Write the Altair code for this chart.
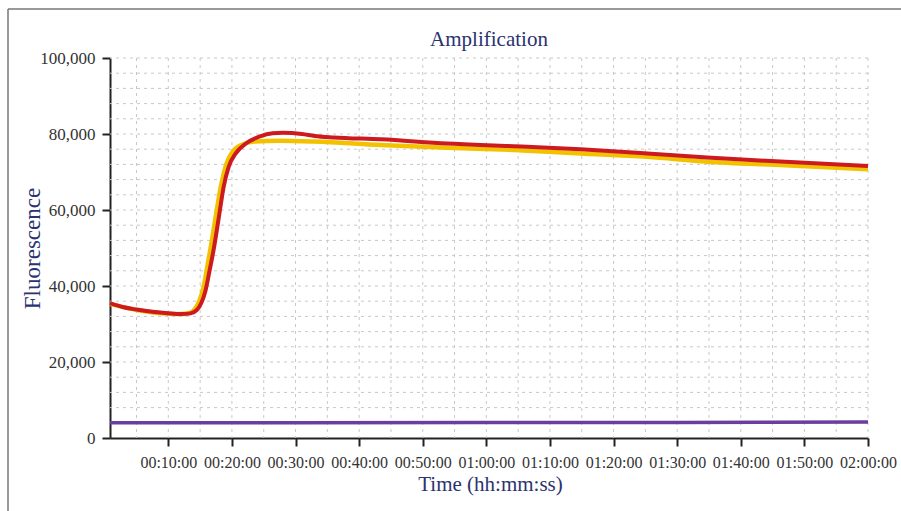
import altair as alt
import pandas as pd

# ---- data (time in minutes, fluorescence units) ----
red_t = [0.83, 3, 5, 7.5, 10, 12, 13.5, 14.5, 15.2, 15.8, 16.4, 17.2, 17.95, 18.7,
         19.5, 20.6, 22.2, 24.3, 26.4, 28.0, 31, 33, 36, 43.4, 53.8, 64.3, 74.8,
         85.3, 94.7, 107, 120]
red_v = [35500, 34400, 33800, 33200, 32800, 32600, 32800, 33700, 35600, 38500,
         43300, 50300, 58200, 66100, 71400, 74900, 77500, 79300, 80200, 80300,
         80000, 79500, 79100, 78600, 77500, 76800, 76000, 74900, 73800, 72700, 71600]

yellow_t = [0.83, 5, 10, 12, 13.3, 14.2, 14.9, 15.5, 16.1, 16.8, 17.5, 18.3, 19.1,
            20.1, 21.6, 23.5, 27.6, 32.9, 43.4, 53.8, 64.3, 74.8, 85.3, 94.7, 107, 120]
yellow_v = [35300, 33700, 32700, 32600, 32900, 34000, 36200, 39500, 44800, 51500,
            58800, 66500, 72000, 75300, 77200, 78000, 78200, 78000, 77100, 76400,
            75800, 74900, 74000, 72700, 71800, 70700]

purple_t = [0.83, 30, 60, 90, 120]
purple_v = [4000, 4000, 4050, 4100, 4200]

grid_x = list(range(5, 125, 5))
grid_y = list(range(4000, 100001, 4000))
x_ticks = list(range(10, 121, 10))
y_ticks = [0, 20000, 40000, 60000, 80000, 100000]

W, H = 758, 380
NAVY = "#2b3270"
SERIF = "Liberation Serif"

red_df = pd.DataFrame({"t": red_t, "v": red_v})
yellow_df = pd.DataFrame({"t": yellow_t, "v": yellow_v})
purple_df = pd.DataFrame({"t": purple_t, "v": purple_v})
gx_df = pd.DataFrame({"t": grid_x})
gy_df = pd.DataFrame({"v": grid_y})

xscale = alt.Scale(domain=[0.83, 120], nice=False, zero=False)
yscale = alt.Scale(domain=[0, 100000], nice=False)

xaxis = alt.Axis(
    values=x_ticks,
    labelExpr="'0' + floor(datum.value/60) + ':' + (datum.value % 60 < 10 ? '0' : '') + (datum.value % 60) + ':00'",
    title="Time (hh:mm:ss)",
    grid=False,
    titleX=W / 2 + 1,
    titleY=52,
    titleBaseline="alphabetic",
    titleFontSize=21,
    labelPadding=8,
    labelFontSize=16,
    labelOverlap=False,
    labelFlush=False,
)
yaxis = alt.Axis(
    values=y_ticks,
    format=",d",
    title="Fluorescence",
    grid=False,
    titleX=-78,
    titleY=H / 2,
    titleBaseline="middle",
    titleAngle=-90,
    titleFontSize=23,
    labelPadding=7,
    labelFontSize=17,
    labelOverlap=False,
    labelFlush=False,
)

X = alt.X("t:Q", scale=xscale, axis=xaxis)
Y = alt.Y("v:Q", scale=yscale, axis=yaxis)

grid_v = alt.Chart(gx_df).mark_rule(color="#c8c8c8", strokeWidth=1, strokeDash=[3, 4]).encode(x=X)
grid_h = alt.Chart(gy_df).mark_rule(color="#c8c8c8", strokeWidth=1, strokeDash=[3, 4]).encode(y=Y)

purple = alt.Chart(purple_df).mark_line(color="#6a3d9e", strokeWidth=3.5, interpolate="monotone").encode(x=X, y=Y)
yellow = alt.Chart(yellow_df).mark_line(color="#f2c200", strokeWidth=4.5, interpolate="monotone").encode(x=X, y=Y)
red = alt.Chart(red_df).mark_line(color="#cc1a1e", strokeWidth=4, interpolate="monotone").encode(x=X, y=Y)

# outer frame (decoration): left and top edges of the figure border
frame_left = alt.Chart(pd.DataFrame({"a": [0]})).mark_rule(color="#777777", strokeWidth=1.5).encode(
    x=alt.value(-102), y=alt.value(-49), y2=alt.value(H + 80))
frame_top = alt.Chart(pd.DataFrame({"a": [0]})).mark_rule(color="#777777", strokeWidth=1.5).encode(
    x=alt.value(-102), x2=alt.value(W + 40), y=alt.value(-49))

chart = alt.layer(grid_v, grid_h, purple, yellow, red, frame_left, frame_top).properties(
    width=W,
    height=H,
    autosize=alt.AutoSizeParams(type="none"),
    padding={"left": 110, "top": 58, "right": 33, "bottom": 73},
    title=alt.TitleParams("Amplification", font=SERIF, fontSize=21, color=NAVY,
                          fontWeight="normal", anchor="middle", offset=-42),
    background="white",
).configure_view(stroke=None).configure_axis(
    labelFont=SERIF,
    labelColor="#333333",
    titleFont=SERIF,
    titleFontWeight="normal",
    titleColor=NAVY,
    domainColor="#222222",
    domainWidth=2,
    tickColor="#222222",
    tickWidth=2,
    tickSize=8,
)

chart.save("out.html", embed_options={"renderer": "svg", "actions": False})
